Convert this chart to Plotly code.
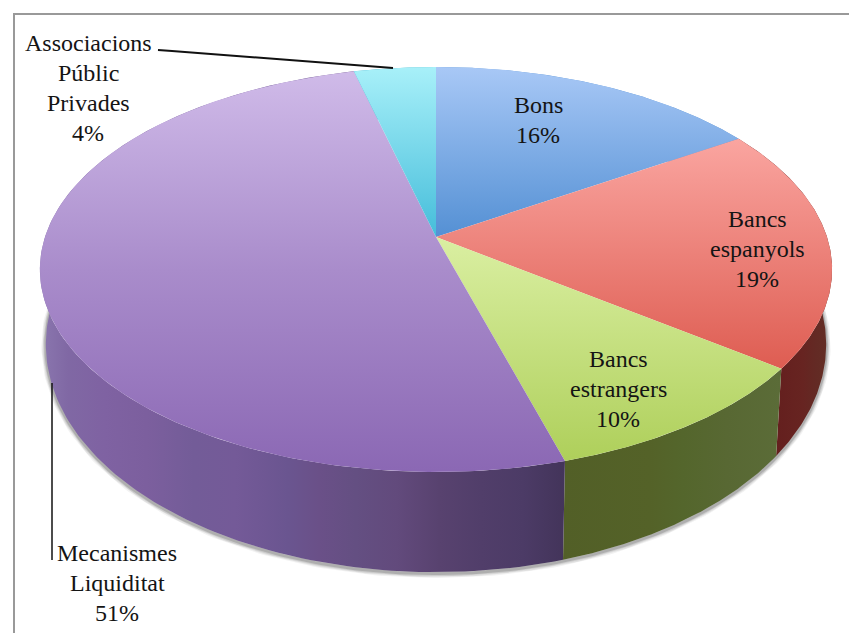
import numpy as np
import plotly.graph_objects as go

categories = [["Bons"], ["Bancs", "espanyols"], ["Bancs", "estrangers"], ["Mecanismes", "Liquiditat"],
              ["Associacions", "Públic", "Privades"]]
values = [15.9, 19.4, 10.2, 50.6, 3.9]
label_x = [538, 757, 618, 117, 88]
label_y = [105, 219, 359, 553, 43]

top_colors = [
    ["#A8C8F6", "#5490D4"],
    ["#FAA5A0", "#DE5D52"],
    ["#DAEFA2", "#AECF5A"],
    ["#D0BBE9", "#A98CCB", "#8B68B4"],
    ["#A8F0F9", "#45BDDA"],
]
top_ranges = [(67, 237), (139, 368), (237, 462), (70, 470), (67, 237)]
side_colors = [
    [(0, "#5A94D6"), (1, "#3C6A9C")],
    [(0, "#641F1E"), (0.5, "#672421"), (0.75, "#632A24"), (1, "#642F25")],
    [(0, "#525F27"), (0.4, "#546228"), (0.55, "#54662C"), (0.75, "#586833"), (1, "#5B6C38")],
    [(0, "#8A76AE"), (0.05, "#8068A4"), (0.12, "#7F62A2"), (0.2, "#7C5F9E"), (0.29, "#735C98"), (0.37, "#745A98"),
     (0.47, "#6A5590"), (0.53, "#6A5088"), (0.6, "#644F82"), (0.68, "#624A7C"), (0.76, "#58426F"), (0.84, "#513E6A"),
     (0.92, "#4C3B66"), (1, "#43345A")],
    [(0, "#45BDDA"), (1, "#2F8CA3")],
]
side_ranges = [(700, 830), (775, 830), (562, 782), (42, 565), (352, 436)]

CX, CY, A, B, P = 436.0, 237.0, 391.0, 197.3, 0.1604
SHRINK, DROP, STRETCH = 0.985, 71.0, 1.124


def rim(theta):
    u, v = np.sin(theta), np.cos(theta)
    w = 1 + P * v
    return CX + A * u / w, CY - B * v / w


def lower(x, y):
    return CX + SHRINK * (x - CX), CY + DROP + STRETCH * (y - CY)


def colorscale(cols):
    return [[i / (len(cols) - 1), c] for i, c in enumerate(cols)]


fig = go.Figure()

# soft shadow under the lower rim
full = np.linspace(np.pi * 0.40, np.pi * 1.60, 260)
sx, sy = lower(*rim(full))
for width, alpha in [(9, 0.05), (7, 0.07), (5, 0.09), (3, 0.14)]:
    fig.add_trace(go.Scatter(x=sx, y=sy + 1.5, mode="lines", hoverinfo="skip",
                             line=dict(color=f"rgba(0,0,0,{alpha})", width=width)))

edges = np.cumsum([0] + values) / sum(values) * 2 * np.pi
slices = list(zip(edges[:-1], edges[1:]))

# side walls; the top faces drawn afterwards hide whatever faces away
for (a0, a1), stops, rng in zip(slices, side_colors, side_ranges):
    t = np.linspace(a0, a1, 160)
    xt, yt = rim(t)
    xb, yb = lower(xt, yt)
    fig.add_trace(go.Scatter(
        x=np.r_[xt, xb[::-1], xt[0]], y=np.r_[yt, yb[::-1], yt[0]],
        mode="lines", line=dict(width=0), hoverinfo="skip", fill="toself",
        fillgradient=dict(type="horizontal", colorscale=[[p, c] for p, c in stops],
                          start=rng[0], stop=rng[1])))

# top faces
for (a0, a1), cols, rng in zip(slices, top_colors, top_ranges):
    t = np.linspace(a0, a1, 160)
    xt, yt = rim(t)
    fig.add_trace(go.Scatter(
        x=np.r_[CX, xt, CX], y=np.r_[CY, yt, CY],
        mode="lines", line=dict(width=0), hoverinfo="skip", fill="toself",
        fillgradient=dict(type="vertical", colorscale=colorscale(cols),
                          start=rng[0], stop=rng[1])))

# leader lines
fig.add_trace(go.Scatter(x=[158, 172, 393], y=[50, 51, 68], mode="lines", hoverinfo="skip",
                         line=dict(color="#111111", width=2)))
fig.add_trace(go.Scatter(x=[52, 52], y=[383, 560], mode="lines", hoverinfo="skip",
                         line=dict(color="#111111", width=1.5)))
# frame
fig.add_trace(go.Scatter(x=[14, 14, 857], y=[633, 14, 14], mode="lines", hoverinfo="skip",
                         line=dict(color="#999999", width=2)))

for lines, v, x, y in zip(categories, values, label_x, label_y):
    for i, text in enumerate(lines + [f"{v:.0f}%"]):
        fig.add_annotation(x=x, y=y + 30 * i, xref="x", yref="y", text=text, showarrow=False,
                           xanchor="center", yanchor="middle", align="center",
                           font=dict(family="Liberation Serif", size=24, color="#141414"))

# the page adds an 8 px body margin, so the plot area starts at 8,8 of the window
fig.update_layout(
    width=849, height=625, margin=dict(l=0, r=0, t=0, b=0), showlegend=False,
    paper_bgcolor="white", plot_bgcolor="white",
    xaxis=dict(range=[8, 857], visible=False, fixedrange=True),
    yaxis=dict(range=[633, 8], visible=False, fixedrange=True),
)
fig.write_html("out.html", config={"displayModeBar": False})
